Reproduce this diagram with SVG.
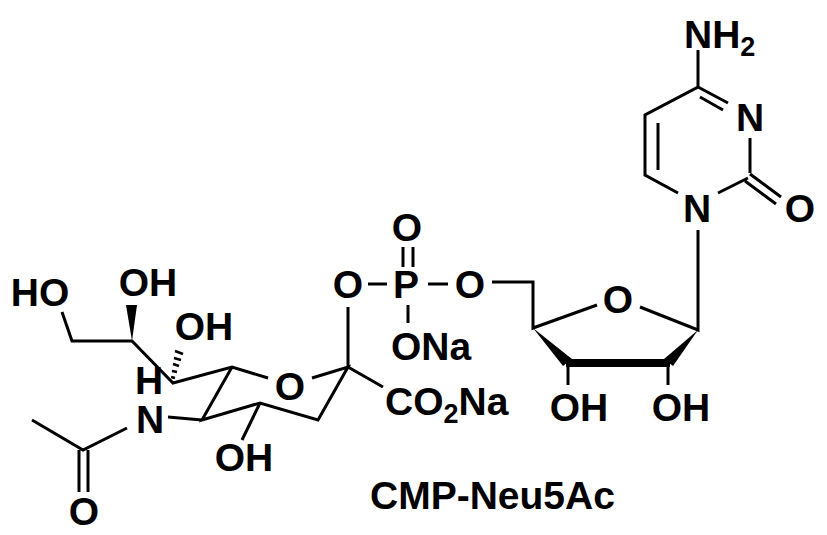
<svg xmlns="http://www.w3.org/2000/svg" width="827" height="535" viewBox="0 0 827 535">
<style>
.b{stroke:#000;stroke-width:3;fill:none;stroke-linecap:butt}
text{font-family:"Liberation Sans",Arial,sans-serif;font-weight:bold;font-size:39px;fill:#000}
.m{text-anchor:middle}
</style>
<rect width="827" height="535" fill="#fff"/>
<g id="bonds" class="b">
<path d="M62,312L72,341L132,341L173,383L232,367L268,378M312,378L348,367L318,420L260,403L202,420L232,367M202,420L168,417M260,403L242,440M127,428L83,450L32,420M79,450V492M88,450V492M348,367V307M348,367L383,387"/>
<path d="M368,284H387M403,247V267M413,247V267M408,305V323M428,284H448M492,282H533V328L597,305M640,307L698,330V230"/>
<path d="M678,193L645,175V115L698,87V50M658,123V170M698,87L728,103M700,97L723,110M750,138V173M748,178L718,193M750,174L781,197M745,181L776,204"/>
<line x1="568" y1="363" x2="568" y2="385"/><line x1="668" y1="363" x2="668" y2="385"/>
</g>
<g id="stereo" fill="#000" stroke="#000">
<polygon points="132,341 126,305 137,305" stroke="none"/>
<path d="M175,378L171,377M177,372L172,371M179,366L173,364M181,360L174,358M183,354L175,351" stroke-width="2.5"/>
<polygon points="533,328 563,366 572,359" stroke="none"/>
<rect x="566" y="359" width="104" height="8" stroke="none"/>
<polygon points="698,330 664,359 673,366" stroke="none"/>
</g>
<g id="labels">
<text x="40" y="306" class="m">HO</text>
<text x="148" y="296" class="m">OH</text>
<text x="204" y="340" class="m">OH</text>
<text x="149" y="394" class="m" font-size="36">H</text>
<text x="150" y="433" class="m">N</text>
<text x="84" y="525" class="m">O</text>
<text x="244" y="471" class="m">OH</text>
<text x="290" y="400" class="m">O</text>
<text x="348" y="298" class="m">O</text>
<text x="406" y="298" class="m">P</text>
<text x="407" y="241" class="m">O</text>
<text x="470" y="298" class="m">O</text>
<text x="391" y="360">ONa</text>
<text x="385" y="415">CO<tspan font-size="27" dy="8">2</tspan><tspan dy="-8">Na</tspan></text>
<text x="618" y="313" class="m">O</text>
<text x="579" y="421" class="m">OH</text>
<text x="681" y="421" class="m">OH</text>
<text x="697" y="222" class="m">N</text>
<text x="750" y="131" class="m">N</text>
<text x="800" y="222" class="m">O</text>
<text x="684" y="48">NH<tspan font-size="27" dy="8">2</tspan></text>
<text x="370" y="509" font-size="47">CMP-Neu5Ac</text>
</g>
</svg>
